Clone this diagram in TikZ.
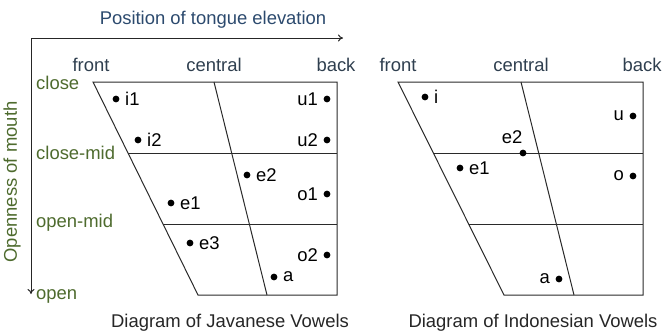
\documentclass[tikz,border=0pt]{standalone}
\usepackage{fontspec}
\setmainfont{Liberation Sans}
\usetikzlibrary{arrows.meta,calc}
\definecolor{axgreen}{HTML}{4E6B2E}
\definecolor{titleblue}{HTML}{2C4A6E}
\definecolor{headgray}{HTML}{2F3F4F}
\definecolor{linegray}{HTML}{2A2A2A}
\begin{document}
\begin{tikzpicture}[x=1bp,y=-1bp,
  txt/.style={font=\fontsize{18.5}{20}\selectfont, inner sep=1pt},
  axislab/.style={txt, text=axgreen, anchor=west},
  headlab/.style={txt, text=headgray},
  caplab/.style={txt, text=black!85},
  frame/.style={draw=linegray, line width=1bp},
  vdot/.style={circle, fill=black, inner sep=0pt, minimum size=6.8bp},
  rlab/.style={txt, anchor=west, xshift=8bp},
  llab/.style={txt, anchor=east, xshift=-8bp},
  axisarrow/.style={draw=black!85, line width=1bp, {To[length=5bp,width=7bp]}-{To[length=5bp,width=7bp]}}
]
\useasboundingbox (0,0) rectangle (664,335);

% axes
\coordinate (hx) at (343,38);
\coordinate (org) at (31,38);
\coordinate (vy) at (31,294);
\draw[axisarrow] (hx) -- (org) -- (vy);
\node[txt, text=titleblue] (title) at (213,20) {Position of tongue elevation};
\node[txt, text=axgreen, rotate=90] (open) at (12,182) {Openness of mouth};
\node[axislab] (lclose) at (35,83) {close};
\node[axislab] (lclosemid) at (35,153) {close-mid};
\node[axislab] (lopenmid) at (35,223) {open-mid};
\node[axislab] (lopen) at (35,296) {open};

% ---------- Javanese ----------
\coordinate (JTL) at (93,82);
\coordinate (JTR) at (337,82);
\coordinate (JBR) at (337,295);
\coordinate (JBL) at (198,295);
\coordinate (JCT) at (214,82);
\coordinate (JCB) at (267,295);
\draw[frame] (JTL) -- (JTR) -- (JBR) -- (JBL) -- cycle;
\draw[frame] (JCT) -- (JCB);
\draw[frame] ($(JTL)!1/3!(JBL)$) -- ($(JTR)!1/3!(JBR)$);
\draw[frame] ($(JTL)!2/3!(JBL)$) -- ($(JTR)!2/3!(JBR)$);
\node[headlab] (jfront) at (91,65) {front};
\node[headlab] (jcentral) at (214,65) {central};
\node[headlab] (jback) at (336,65) {back};

\node[vdot] (ji1) at (116,99) {};  \node[rlab] at (ji1.center) {i1};
\node[vdot] (ji2) at (138,140) {}; \node[rlab] at (ji2.center) {i2};
\node[vdot] (ju1) at (327,99) {};  \node[llab] at (ju1.center) {u1};
\node[vdot] (ju2) at (327,140) {}; \node[llab] at (ju2.center) {u2};
\node[vdot] (je2) at (247,175) {}; \node[rlab] at (je2.center) {e2};
\node[vdot] (je1) at (171,203) {}; \node[rlab] at (je1.center) {e1};
\node[vdot] (jo1) at (327,194) {}; \node[llab] at (jo1.center) {o1};
\node[vdot] (je3) at (190,243) {}; \node[rlab] at (je3.center) {e3};
\node[vdot] (jo2) at (327,255) {}; \node[llab] at (jo2.center) {o2};
\node[vdot] (ja) at (274,277) {};  \node[rlab] at (ja.center) {a};

\node[caplab] (jcap) at (230,323) {Diagram of Javanese Vowels};

% ---------- Indonesian ----------
\coordinate (ITL) at (398,82);
\coordinate (ITR) at (643,82);
\coordinate (IBR) at (643,295);
\coordinate (IBL) at (504,295);
\coordinate (ICT) at (521,82);
\coordinate (ICB) at (574,295);
\draw[frame] (ITL) -- (ITR) -- (IBR) -- (IBL) -- cycle;
\draw[frame] (ICT) -- (ICB);
\draw[frame] ($(ITL)!1/3!(IBL)$) -- ($(ITR)!1/3!(IBR)$);
\draw[frame] ($(ITL)!2/3!(IBL)$) -- ($(ITR)!2/3!(IBR)$);
\node[headlab] (ifront) at (398,65) {front};
\node[headlab] (icentral) at (521,65) {central};
\node[headlab] (iback) at (642,65) {back};

\node[vdot] (ii) at (425,97) {};   \node[rlab] at (ii.center) {i};
\node[vdot] (iu) at (633,116) {};  \node[llab] at (iu.center) {u};
\node[vdot] (ie2) at (523,153) {}; \node[txt] at (512,137) {e2};
\node[vdot] (ie1) at (460,168) {}; \node[rlab] at (ie1.center) {e1};
\node[vdot] (io) at (633,176) {};  \node[llab] at (io.center) {o};
\node[vdot] (ia) at (559,279) {};  \node[llab] at (ia.center) {a};

\node[caplab] (icap) at (533,323) {Diagram of Indonesian Vowels};
\end{tikzpicture}
\end{document}
